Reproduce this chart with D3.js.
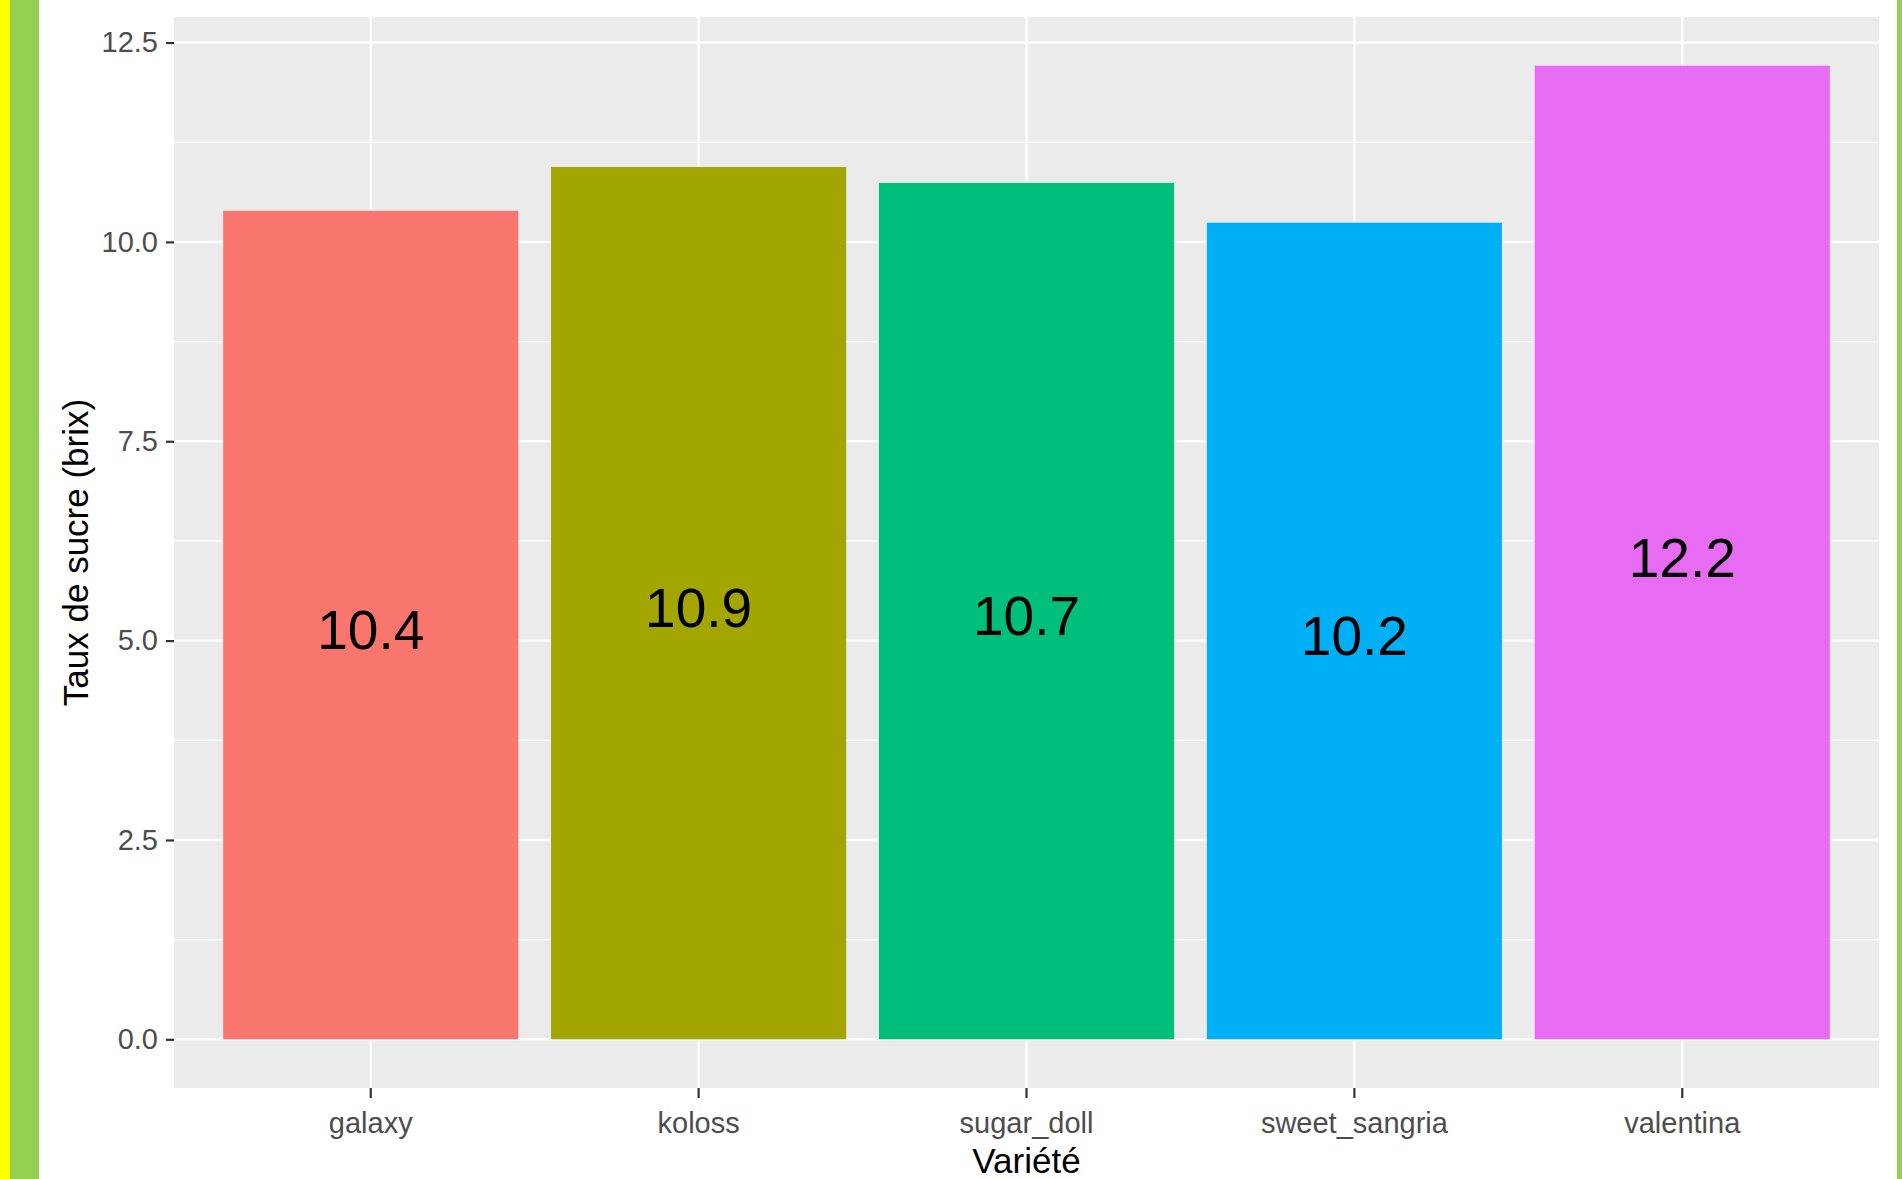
<!DOCTYPE html>
<html>
<head>
<meta charset="utf-8">
<script src="https://cdn.jsdelivr.net/npm/d3@7"></script>
<style>
  body { margin: 0; background: #fff; }
  text { font-family: "Liberation Sans", Arial, sans-serif; }
</style>
</head>
<body>
<div id="chart"></div>
<script>
const width = 1902;
const height = 1179;

// data
const varieties = ["galaxy", "koloss", "sugar_doll", "sweet_sangria", "valentina"];
const sugar = [10.39, 10.94, 10.74, 10.24, 12.21];
const barColors = ["#F8766D", "#A3A500", "#00BF7D", "#00B0F6", "#E76BF3"];
const yTicks = [0, 2.5, 5, 7.5, 10, 12.5];
const yMinor = [1.25, 3.75, 6.25, 8.75, 11.25];

const panel = { left: 174, right: 1879, top: 17, bottom: 1088 };

const svg = d3.select("#chart").append("svg").attr("width", width).attr("height", height);

// frame stripes
svg.append("rect").attr("x", 0).attr("y", 0).attr("width", 10).attr("height", height).attr("fill", "#FFFF00");
svg.append("rect").attr("x", 10).attr("y", 0).attr("width", 29).attr("height", height).attr("fill", "#92D050");
svg.append("rect").attr("x", 1897).attr("y", 0).attr("width", 5).attr("height", height).attr("fill", "#92D050");

// ggplot-like expansion: 5% on y, 0.6 units on discrete x
const maxV = d3.max(sugar);
const y = d3.scaleLinear().domain([-0.05 * maxV, maxV * 1.05]).range([panel.bottom, panel.top]);
const x = d3.scaleBand().domain(varieties).range([panel.left, panel.right])
    .paddingInner(0.1).paddingOuter(0.15);

svg.append("rect")
    .attr("x", panel.left).attr("y", panel.top)
    .attr("width", panel.right - panel.left).attr("height", panel.bottom - panel.top)
    .attr("fill", "#EBEBEB");

// minor grid
svg.append("g").selectAll("line").data(yMinor).join("line")
    .attr("x1", panel.left).attr("x2", panel.right)
    .attr("y1", d => y(d)).attr("y2", d => y(d))
    .attr("stroke", "#fff").attr("stroke-width", 1.2);

// major grid
svg.append("g").selectAll("line").data(yTicks).join("line")
    .attr("x1", panel.left).attr("x2", panel.right)
    .attr("y1", d => y(d)).attr("y2", d => y(d))
    .attr("stroke", "#fff").attr("stroke-width", 2.4);
svg.append("g").selectAll("line").data(varieties).join("line")
    .attr("x1", d => x(d) + x.bandwidth() / 2).attr("x2", d => x(d) + x.bandwidth() / 2)
    .attr("y1", panel.top).attr("y2", panel.bottom)
    .attr("stroke", "#fff").attr("stroke-width", 2.4);

// bars
svg.append("g").selectAll("rect").data(varieties).join("rect")
    .attr("x", d => x(d))
    .attr("y", (d, i) => y(sugar[i]))
    .attr("width", x.bandwidth())
    .attr("height", (d, i) => y(0) - y(sugar[i]))
    .attr("fill", (d, i) => barColors[i]);

// value labels, centred at half height
const fmt = d3.format(".1f");
svg.append("g").selectAll("text").data(varieties).join("text")
    .attr("x", d => x(d) + x.bandwidth() / 2)
    .attr("y", (d, i) => y(sugar[i] / 2) + 5)
    .attr("text-anchor", "middle")
    .attr("dominant-baseline", "central")
    .attr("font-size", 55)
    .attr("fill", "#000")
    .text((d, i) => fmt(sugar[i]));

// y axis
const yAxis = svg.append("g")
    .attr("transform", `translate(${panel.left},0)`)
    .call(d3.axisLeft(y).tickValues(yTicks).tickFormat(d3.format(".1f")).tickSize(8).tickPadding(8));
yAxis.select(".domain").remove();
yAxis.selectAll(".tick line").attr("stroke", "#333").attr("stroke-width", 2.2);
yAxis.selectAll(".tick text").attr("font-size", 29).attr("fill", "#4D4D4D")
    .attr("font-family", "'Liberation Sans', Arial, sans-serif");

// x axis
const xAxis = svg.append("g")
    .attr("transform", `translate(0,${panel.bottom})`)
    .call(d3.axisBottom(x).tickSize(10).tickPadding(14));
xAxis.select(".domain").remove();
xAxis.selectAll(".tick line").attr("stroke", "#333").attr("stroke-width", 2.2);
xAxis.selectAll(".tick text").attr("font-size", 29).attr("fill", "#4D4D4D")
    .attr("font-family", "'Liberation Sans', Arial, sans-serif");

// axis titles
svg.append("text")
    .attr("x", (panel.left + panel.right) / 2)
    .attr("y", 1173)
    .attr("text-anchor", "middle")
    .attr("font-size", 35)
    .attr("fill", "#000")
    .text("Variété");

svg.append("text")
    .attr("transform", `translate(88,${(panel.top + panel.bottom) / 2}) rotate(-90)`)
    .attr("text-anchor", "middle")
    .attr("font-size", 35)
    .attr("fill", "#000")
    .text("Taux de sucre (brix)");
</script>
</body>
</html>
